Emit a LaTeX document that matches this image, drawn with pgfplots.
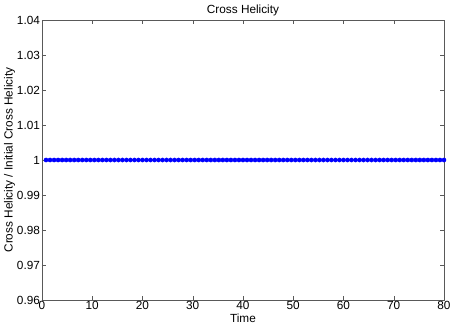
\documentclass[border=0pt]{standalone}
\usepackage{pgfplots}
\pgfplotsset{compat=1.18}
\usepackage{fontspec}
\setmainfont{Liberation Sans}
\begin{document}
\begin{tikzpicture}
\begin{axis}[
    at={(0,0)}, anchor=south west,
    scale only axis,
    width=402pt, height=280pt,
    xmin=0, xmax=80, ymin=0.96, ymax=1.04,
    xtick={0,10,...,80},
    ytick={0.96,0.97,0.98,0.99,1,1.01,1.02,1.03,1.04},
    tick align=inside,
    xtick pos=both, ytick pos=both,
    major tick length=4pt,
    axis line style={black!65},
    every tick/.style={black!65},
    font=\fontsize{11.8}{13}\selectfont,
    /pgf/number format/assume math mode=true,
    yticklabel style={/pgf/number format/fixed, /pgf/number format/precision=2, xshift=1.5pt},
    xticklabel style={yshift=2pt},
    title={Cross Helicity},
    title style={yshift=-5pt},
    xlabel={Time},
    xlabel style={yshift=3pt},
    ylabel={Cross Helicity / Initial Cross Helicity},
    ylabel style={yshift=-5pt},
]
\addplot[only marks, mark=*, mark size=2.1pt, color=blue] table {
x y
0.8 1
1.6 1
2.4 1
3.2 1
4 1
4.8 1
5.6 1
6.4 1
7.2 1
8 1
8.8 1
9.6 1
10.4 1
11.2 1
12 1
12.8 1
13.6 1
14.4 1
15.2 1
16 1
16.8 1
17.6 1
18.4 1
19.2 1
20 1
20.8 1
21.6 1
22.4 1
23.2 1
24 1
24.8 1
25.6 1
26.4 1
27.2 1
28 1
28.8 1
29.6 1
30.4 1
31.2 1
32 1
32.8 1
33.6 1
34.4 1
35.2 1
36 1
36.8 1
37.6 1
38.4 1
39.2 1
40 1
40.8 1
41.6 1
42.4 1
43.2 1
44 1
44.8 1
45.6 1
46.4 1
47.2 1
48 1
48.8 1
49.6 1
50.4 1
51.2 1
52 1
52.8 1
53.6 1
54.4 1
55.2 1
56 1
56.8 1
57.6 1
58.4 1
59.2 1
60 1
60.8 1
61.6 1
62.4 1
63.2 1
64 1
64.8 1
65.6 1
66.4 1
67.2 1
68 1
68.8 1
69.6 1
70.4 1
71.2 1
72 1
72.8 1
73.6 1
74.4 1
75.2 1
76 1
76.8 1
77.6 1
78.4 1
79.2 1
80 1
};
\end{axis}
\pgfresetboundingbox
\path[use as bounding box] (-42pt,-27pt) rectangle (408pt,300pt);
\end{tikzpicture}
\end{document}
